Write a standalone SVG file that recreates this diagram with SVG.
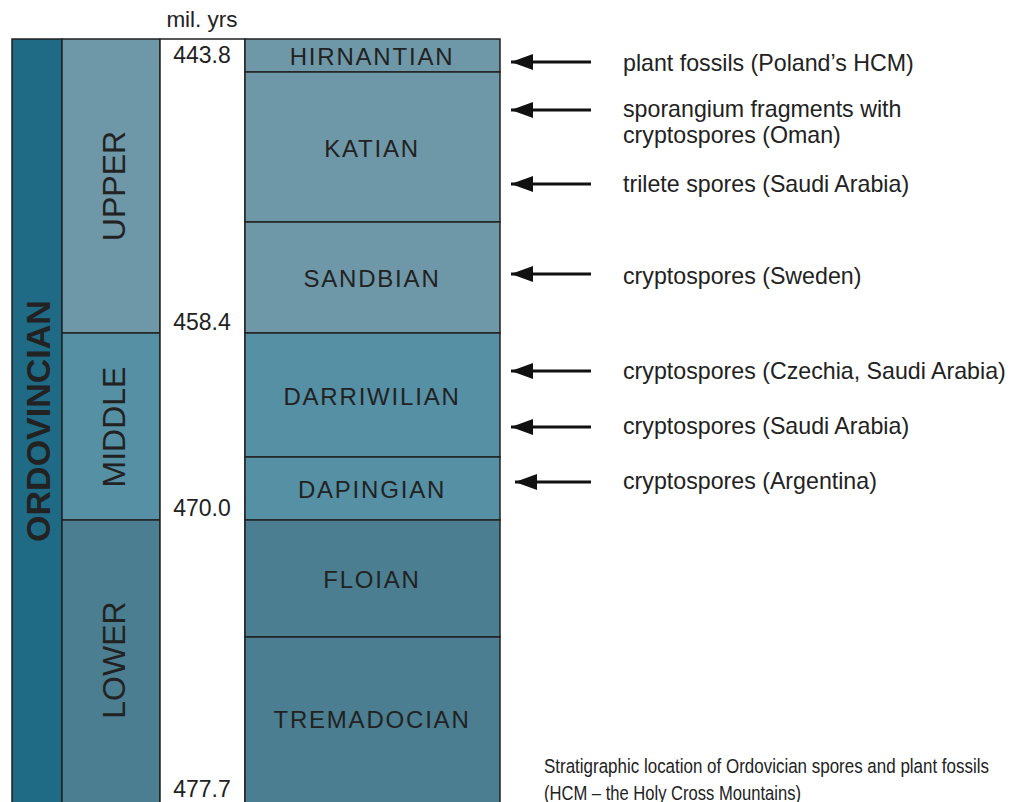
<svg xmlns="http://www.w3.org/2000/svg" width="1013" height="802" viewBox="0 0 1013 802">
<style>
.box{stroke:#222;stroke-width:1.5}
.up{fill:#6e97a8}.mid{fill:#5690a5}.low{fill:#4b7e90}
.lbl{font-family:"Liberation Sans",Arial,sans-serif;fill:#222}
.stage{font-size:24px;letter-spacing:1.8px;text-anchor:middle}
.num{font-size:23px;text-anchor:middle}
.note{font-size:23.2px}
.ser{font-size:32px;text-anchor:middle}
.cap{font-family:"Liberation Sans",Arial,sans-serif;font-size:20.5px;fill:#222}
</style>
<defs>
<marker id="ah" markerWidth="22" markerHeight="18" refX="0" refY="9" orient="auto" markerUnits="userSpaceOnUse">
<path d="M0,9 L22,1 L22,17 Z" fill="#111"/>
</marker>
</defs>
<rect width="1013" height="802" fill="#fff"/>
<g id="system">
<rect class="box" x="12" y="39" width="50" height="770" fill="#1f6b86"/>
<text class="lbl" transform="translate(50,421) rotate(-90)" font-size="34" font-weight="bold" text-anchor="middle">ORDOVINCIAN</text>
</g>
<g id="series-upper">
<rect class="box up" x="62" y="39" width="98" height="294"/>
<text class="lbl ser" transform="translate(125,186) rotate(-90)">UPPER</text>
</g>
<g id="series-middle">
<rect class="box mid" x="62" y="333" width="98" height="187"/>
<text class="lbl ser" transform="translate(125,427) rotate(-90)">MIDDLE</text>
</g>
<g id="series-lower">
<rect class="box low" x="62" y="520" width="98" height="289"/>
<text class="lbl ser" transform="translate(125,660) rotate(-90)">LOWER</text>
</g>
<g id="ages">
<rect class="box" x="160" y="39" width="85" height="770" fill="#fff"/>
<text class="lbl" x="202" y="27" font-size="22.5" text-anchor="middle">mil. yrs</text>
<text class="lbl num" x="202" y="63">443.8</text>
<text class="lbl num" x="202" y="330">458.4</text>
<text class="lbl num" x="202" y="516">470.0</text>
<text class="lbl num" x="202" y="797">477.7</text>
</g>
<g id="hirnantian"><rect class="box up" x="245" y="39" width="255" height="33"/><text class="lbl stage" x="372" y="65">HIRNANTIAN</text></g>
<g id="katian"><rect class="box up" x="245" y="72" width="255" height="150"/><text class="lbl stage" x="372" y="157">KATIAN</text></g>
<g id="sandbian"><rect class="box up" x="245" y="222" width="255" height="111"/><text class="lbl stage" x="372" y="287">SANDBIAN</text></g>
<g id="darriwilian"><rect class="box mid" x="245" y="333" width="255" height="124"/><text class="lbl stage" x="372" y="405">DARRIWILIAN</text></g>
<g id="dapingian"><rect class="box mid" x="245" y="457" width="255" height="63"/><text class="lbl stage" x="372" y="498">DAPINGIAN</text></g>
<g id="floian"><rect class="box low" x="245" y="520" width="255" height="117"/><text class="lbl stage" x="372" y="588">FLOIAN</text></g>
<g id="tremadocian"><rect class="box low" x="245" y="637" width="255" height="172"/><text class="lbl stage" x="372" y="728">TREMADOCIAN</text></g>
<g id="connectors" stroke="#111" stroke-width="3" marker-start="url(#ah)">
<line x1="511" y1="62" x2="591" y2="62"/>
<line x1="511" y1="110" x2="591" y2="110"/>
<line x1="511" y1="184" x2="591" y2="184"/>
<line x1="511" y1="274" x2="591" y2="274"/>
<line x1="511" y1="371" x2="591" y2="371"/>
<line x1="511" y1="427" x2="591" y2="427"/>
<line x1="515" y1="482" x2="591" y2="482"/>
</g>
<g id="notes">
<text class="lbl note" x="623" y="71">plant fossils (Poland’s HCM)</text>
<text class="lbl note" x="623" y="117">sporangium fragments with</text>
<text class="lbl note" x="623" y="143">cryptospores (Oman)</text>
<text class="lbl note" x="623" y="192">trilete spores (Saudi Arabia)</text>
<text class="lbl note" x="623" y="284">cryptospores (Sweden)</text>
<text class="lbl note" x="623" y="379">cryptospores (Czechia, Saudi Arabia)</text>
<text class="lbl note" x="623" y="434">cryptospores (Saudi Arabia)</text>
<text class="lbl note" x="623" y="489">cryptospores (Argentina)</text>
</g>
<g id="caption">
<text class="cap" x="544" y="773" textLength="445" lengthAdjust="spacingAndGlyphs">Stratigraphic location of Ordovician spores and plant fossils</text>
<text class="cap" x="544" y="800" textLength="257" lengthAdjust="spacingAndGlyphs">(HCM – the Holy Cross Mountains)</text>
</g>
</svg>
